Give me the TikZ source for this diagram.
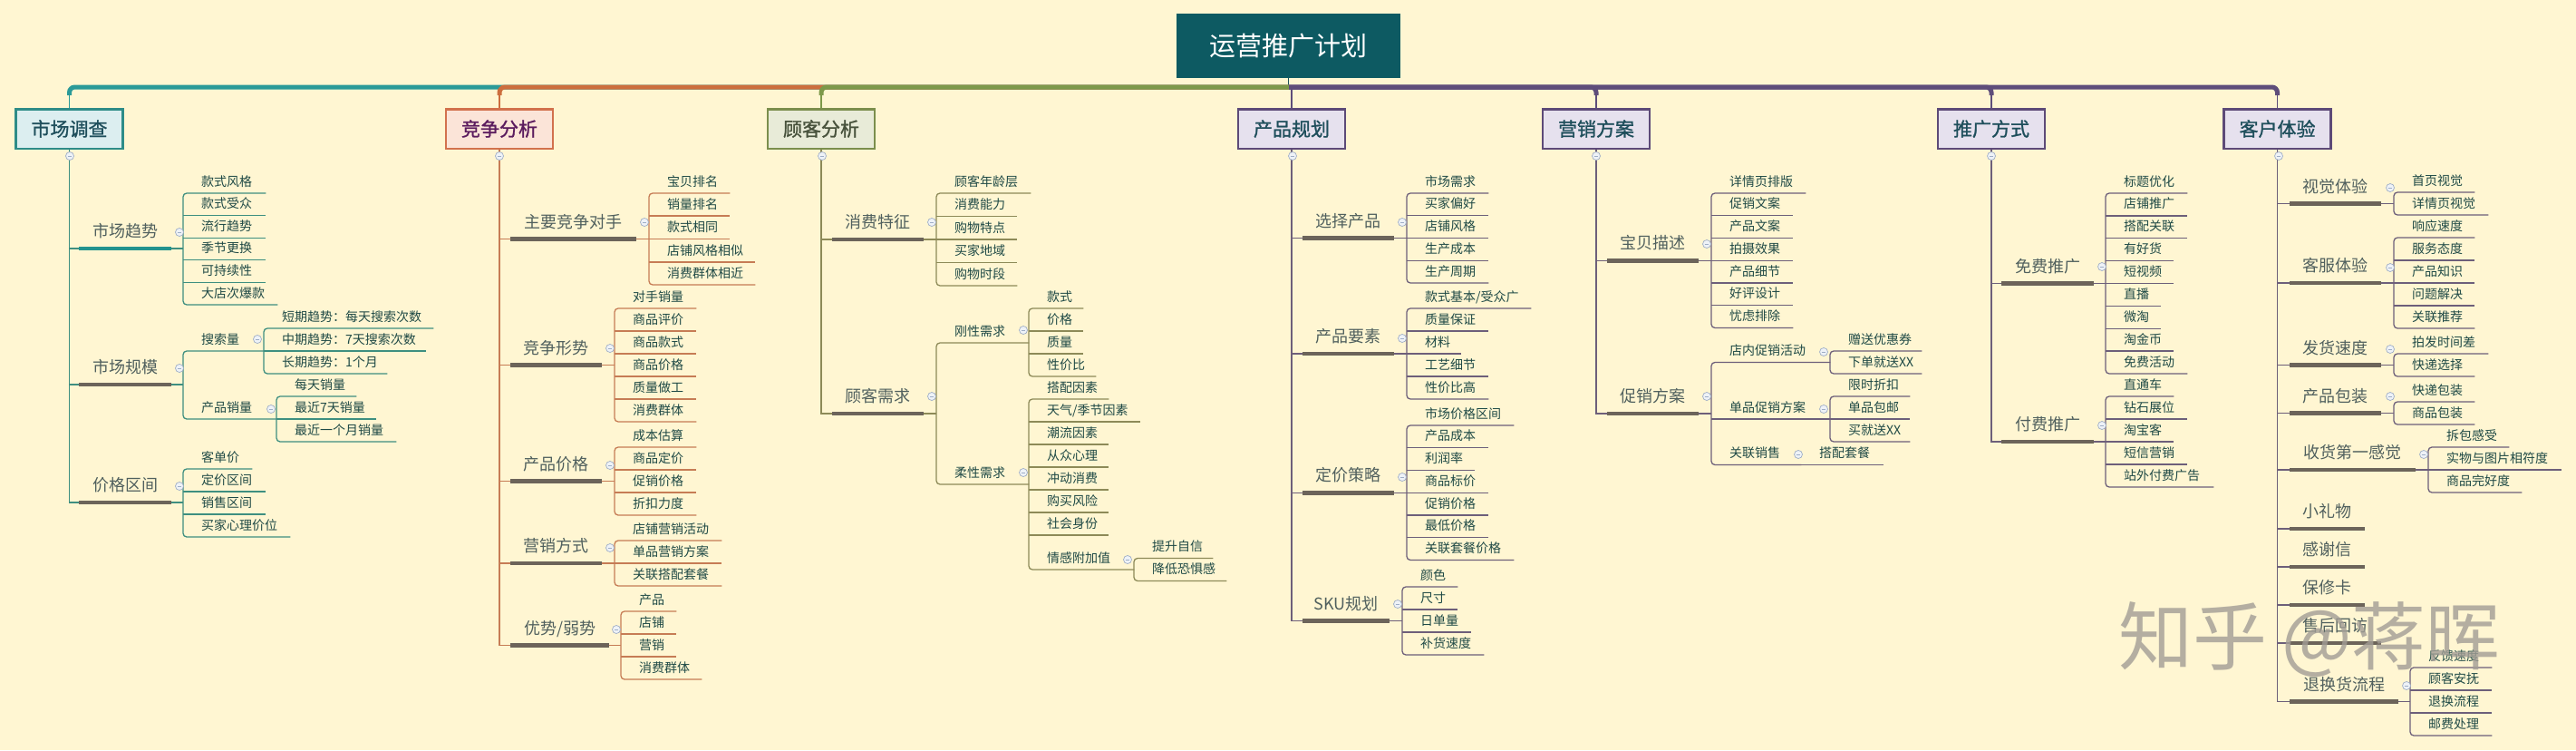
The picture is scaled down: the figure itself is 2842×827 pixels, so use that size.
\documentclass[tikz,border=0pt]{standalone}
\usepackage{fontspec}
\setmainfont{Noto Sans CJK SC}
\newfontfamily\boxfont[FakeBold=1.2]{Noto Sans CJK SC}
\usetikzlibrary{calc}
\definecolor{bg}{HTML}{FFF6D2}
\definecolor{ttl}{HTML}{0D5A62}
\definecolor{cA}{HTML}{3E8F80}
\definecolor{cB}{HTML}{C67C55}
\definecolor{cC}{HTML}{8D8A58}
\definecolor{cD}{HTML}{6D5F7A}
\definecolor{mA}{HTML}{2A9A98}
\definecolor{mB}{HTML}{CC6E3E}
\definecolor{mC}{HTML}{7D994A}
\definecolor{mD}{HTML}{5E4D7A}
\definecolor{fA}{HTML}{DCEEF0}
\definecolor{fB}{HTML}{FBE4D8}
\definecolor{fC}{HTML}{E8EBD8}
\definecolor{fD}{HTML}{E6E1EE}
\definecolor{dA}{HTML}{2E8C88}
\definecolor{dB}{HTML}{D2714D}
\definecolor{dC}{HTML}{7B8E4D}
\definecolor{dD}{HTML}{5D4A78}
\definecolor{tA}{HTML}{1F4F5C}
\definecolor{tB}{HTML}{5B1B5E}
\definecolor{tC}{HTML}{48523C}
\definecolor{tD}{HTML}{1E4E5B}
\definecolor{leafc}{HTML}{1F4A46}
\definecolor{lvtc}{HTML}{50605E}
\definecolor{barc}{HTML}{6C645A}
\definecolor{bart}{HTML}{23938F}
\definecolor{togd}{HTML}{9FAEC6}
\definecolor{togf}{HTML}{EEF2F7}
\definecolor{wmc}{HTML}{A29D95}
\newcommand\MMlt[5]{\node[lvt] (#1) at (#2,#3) {\makebox[#4pt][c]{#5}};}
\newcommand\MMlf[5]{\node[leaf] (#1) at (#2,#3) {\makebox[#4pt][l]{\hspace*{20pt}#5}};}
\newcommand\MMbrk[4]{\draw[ln,#1,rounded corners=4pt] (#2.south east) -| (#3.south west) -- (#3.south east);\foreach \mm in {#4}{\draw[ln,#1] (\mm.south west) -- (\mm.south east);}}
\newcommand\MMbrktwo[3]{\draw[ln,#1,rounded corners=4pt] (#2.south east) -| (#3.south west) -- (#3.south east);}
\newcommand\MMjn[3]{\draw[ln,#1] (#2.south east) -- (#2.south east -| #3.south west);}
\newcommand\MMsp[3]{\draw[ln,#1] (#2.south) |- (#3.south west);\draw[bar] (#3.south west) -- (#3.south east);}
\newcommand\MMtog[3]{\node[tog] (#1) at (#2,#3) {};}
\begin{document}
\begin{tikzpicture}[x=1pt,y=-1pt,
 ln/.style={line width=1.3pt},
 bar/.style={line width=4.5pt, barc},
 lvt/.style={anchor=south west, inner xsep=0pt, inner ysep=12.2pt, text height=13.7pt, text depth=0pt, font=\fontsize{18pt}{20pt}\selectfont, text=lvtc},
 leaf/.style={anchor=south west, inner xsep=0pt, inner ysep=7.7pt, text height=10.6pt, text depth=0pt, font=\fontsize{14pt}{16pt}\selectfont, text=leafc},
 box/.style={draw, line width=2.5pt, minimum width=118pt, minimum height=43.5pt, inner sep=0pt, font=\boxfont\fontsize{21pt}{24pt}\selectfont, text height=16pt, text depth=0pt},
 tog/.style={circle, draw=togd, fill=togf, line width=0.7pt, minimum size=9pt, inner sep=0pt, path picture={\draw[togd, line width=0.9pt] ([xshift=-2.3pt]path picture bounding box.center) -- ([xshift=2.3pt]path picture bounding box.center);}},
 mainl/.style={line width=5pt, rounded corners=6pt},
 stub/.style={line width=1.8pt}
]
\fill[bg] (0,0) rectangle (2842,827);
\useasboundingbox (0,0) rectangle (2842,827);

% root and boxes
\node[fill=ttl, minimum width=247pt, minimum height=71pt, inner sep=0pt, text=white, font=\fontsize{29pt}{32pt}\selectfont, text height=22pt, text depth=0pt] (R) at (1421.5,50.5) {运营推广计划};
\node[box, fill=fA, draw=dA, text=tA] (B1) at (76.5,142) {市场调查};
\node[box, fill=fB, draw=dB, text=tB] (B2) at (551,142) {竞争分析};
\node[box, fill=fC, draw=dC, text=tC] (B3) at (906,142) {顾客分析};
\node[box, fill=fD, draw=dD, text=tD] (B4) at (1425,142) {产品规划};
\node[box, fill=fD, draw=dD, text=tD] (B5) at (1761,142) {营销方案};
\node[box, fill=fD, draw=dD, text=tD] (B6) at (2197,142) {推广方式};
\node[box, fill=fD, draw=dD, text=tD] (B7) at (2512.5,142) {客户体验};

\coordinate (mj) at (1422,96);
\draw[line width=1.2pt, tD] (R.south) -- (R.south |- mj);
\draw[mainl, mA] (mj) -| ($(B1.north)+(0,-14)$);
\draw[stub, mA] ($(B1.north)+(0,-14)$) -- (B1.north);
\draw[mainl, mB] (mj) -| ($(B2.north)+(0,-14)$);
\draw[stub, mB] ($(B2.north)+(0,-14)$) -- (B2.north);
\draw[mainl, mC] (mj) -| ($(B3.north)+(0,-14)$);
\draw[stub, mC] ($(B3.north)+(0,-14)$) -- (B3.north);
\draw[mainl, mD] (mj) -| ($(B7.north)+(0,-14)$);
\draw[stub, mD] ($(B7.north)+(0,-14)$) -- (B7.north);
\draw[mainl, mD] (mj) -| ($(B6.north)+(0,-14)$);
\draw[stub, mD] ($(B6.north)+(0,-14)$) -- (B6.north);
\draw[mainl, mD] (mj) -| ($(B5.north)+(0,-14)$);
\draw[stub, mD] ($(B5.north)+(0,-14)$) -- (B5.north);
\draw[stub, mD] (B4.north |- mj) -- (B4.north);

% ---------- column 1
\MMlt{l11}{87}{274}{102}{市场趋势}
\MMlt{l12}{87}{424}{102}{市场规模}
\MMlt{l13}{87}{554}{102}{价格区间}
\MMlf{a1}{202}{213}{91}{款式风格}
\MMlf{a2}{202}{237.6}{91}{款式受众}
\MMlf{a3}{202}{262.2}{91}{流行趋势}
\MMlf{a4}{202}{286.8}{91}{季节更换}
\MMlf{a5}{202}{311.4}{91}{可持续性}
\MMlf{a6}{202}{336}{104}{大店次爆款}
\MMlf{a7}{202}{387}{89}{搜索量}
\MMlf{a8}{202}{462}{103}{产品销量}
\MMlf{a9}{291}{362}{187}{短期趋势：每天搜索次数}
\MMlf{a10}{291}{387}{179}{中期趋势：7天搜索次数}
\MMlf{a11}{291}{412}{136}{长期趋势：1个月}
\MMlf{a12}{305}{437}{88}{每天销量}
\MMlf{a13}{305}{462}{110}{最近7天销量}
\MMlf{a14}{305}{487}{132}{最近一个月销量}
\MMlf{a15}{202}{517}{76}{客单价}
\MMlf{a16}{202}{542}{91}{定价区间}
\MMlf{a17}{202}{567}{91}{销售区间}
\MMlf{a18}{202}{592}{118}{买家心理价位}
\MMsp{cA}{B1}{l11}\MMsp{cA}{B1}{l12}\MMsp{cA}{B1}{l13}
\draw[bar,bart] (l11.south west) -- (l11.south east);
\MMjn{cA}{l11}{a1}\MMbrk{cA}{a1}{a6}{a2,a3,a4,a5}
\MMjn{cA}{l12}{a7}\MMbrktwo{cA}{a7}{a8}
\MMbrk{cA}{a9}{a11}{a10}
\MMbrk{cA}{a12}{a14}{a13}
\MMjn{cA}{l13}{a15}\MMbrk{cA}{a15}{a18}{a16,a17}

% ---------- column 2
\MMlt{l21}{563}{263.5}{139}{主要竞争对手}
\MMlt{l22}{563}{402.5}{101}{竞争形势}
\MMlt{l23}{563}{530.5}{101}{产品价格}
\MMlt{l24}{563}{621}{101}{营销方式}
\MMlt{l25}{563}{711.5}{109}{优势/弱势}
\MMlf{k1}{716}{213}{89}{宝贝排名}
\MMlf{k2}{716}{238}{89}{销量排名}
\MMlf{k3}{716}{263.5}{89}{款式相同}
\MMlf{k4}{716}{289}{117}{店铺风格相似}
\MMlf{k5}{716}{314}{117}{消费群体相近}
\MMlf{k6}{678}{340}{90}{对手销量}
\MMlf{k7}{678}{365}{90}{商品评价}
\MMlf{k8}{678}{390}{90}{商品款式}
\MMlf{k9}{678}{415}{90}{商品价格}
\MMlf{k10}{678}{440}{90}{质量做工}
\MMlf{k11}{678}{465}{90}{消费群体}
\MMlf{k12}{678}{493}{90}{成本估算}
\MMlf{k13}{678}{518}{90}{商品定价}
\MMlf{k14}{678}{543}{90}{促销价格}
\MMlf{k15}{678}{568}{90}{折扣力度}
\MMlf{k16}{678}{596}{118}{店铺营销活动}
\MMlf{k17}{678}{621}{118}{单品营销方案}
\MMlf{k18}{678}{646}{118}{关联搭配套餐}
\MMlf{k19}{685}{674}{61}{产品}
\MMlf{k20}{685}{699}{61}{店铺}
\MMlf{k21}{685}{724}{61}{营销}
\MMlf{k22}{685}{749}{89}{消费群体}
\MMsp{cB}{B2}{l21}\MMsp{cB}{B2}{l22}\MMsp{cB}{B2}{l23}\MMsp{cB}{B2}{l24}\MMsp{cB}{B2}{l25}
\MMjn{cB}{l21}{k1}\MMbrk{cB}{k1}{k5}{k2,k3,k4}
\MMjn{cB}{l22}{k6}\MMbrk{cB}{k6}{k11}{k7,k8,k9,k10}
\MMjn{cB}{l23}{k12}\MMbrk{cB}{k12}{k15}{k13,k14}
\MMjn{cB}{l24}{k16}\MMbrk{cB}{k16}{k18}{k17}
\MMjn{cB}{l25}{k19}\MMbrk{cB}{k19}{k22}{k20,k21}

% ---------- column 3
\MMlt{l31}{918}{264}{101}{消费特征}
\MMlt{l32}{918}{456}{101}{顾客需求}
\MMlf{c1}{1033}{213}{104}{顾客年龄层}
\MMlf{c2}{1033}{238.5}{89}{消费能力}
\MMlf{c3}{1033}{264}{89}{购物特点}
\MMlf{c4}{1033}{289.5}{89}{买家地域}
\MMlf{c5}{1033}{315}{89}{购物时段}
\MMlf{c6}{1033}{378}{102}{刚性需求}
\MMlf{c7}{1033}{534}{102}{柔性需求}
\MMlf{c8}{1135}{340}{60}{款式}
\MMlf{c9}{1135}{365}{60}{价格}
\MMlf{c10}{1135}{390}{60}{质量}
\MMlf{c11}{1135}{415}{74}{性价比}
\MMlf{c12}{1135}{440}{88}{搭配因素}
\MMlf{c13}{1135}{465}{123}{天气/季节因素}
\MMlf{c14}{1135}{490}{88}{潮流因素}
\MMlf{c15}{1135}{515}{88}{从众心理}
\MMlf{c16}{1135}{540}{88}{冲动消费}
\MMlf{c17}{1135}{565}{88}{购买风险}
\MMlf{c18}{1135}{590}{88}{社会身份}
\MMlf{c19}{1135}{628}{116}{情感附加值}
\MMlf{c20}{1251}{615.5}{87}{提升自信}
\MMlf{c21}{1251}{640.5}{102}{降低恐惧感}
\MMsp{cC}{B3}{l31}\MMsp{cC}{B3}{l32}
\MMjn{cC}{l31}{c1}\MMbrk{cC}{c1}{c5}{c2,c3,c4}
\MMjn{cC}{l32}{c6}\MMbrktwo{cC}{c6}{c7}
\MMbrk{cC}{c8}{c11}{c9,c10}
\MMbrk{cC}{c12}{c19}{c13,c14,c15,c16,c17,c18}
\MMbrktwo{cC}{c20}{c21}

% ---------- column 4
\MMlt{l41}{1437}{262.5}{101}{选择产品}
\MMlt{l42}{1437}{390}{101}{产品要素}
\MMlt{l43}{1437}{543.25}{101}{定价策略}
\MMlt{l44}{1437}{684.5}{96}{SKU规划}
\MMlf{d1}{1552}{213}{90}{市场需求}
\MMlf{d2}{1552}{237.75}{90}{买家偏好}
\MMlf{d3}{1552}{262.5}{90}{店铺风格}
\MMlf{d4}{1552}{287.25}{90}{生产成本}
\MMlf{d5}{1552}{312}{90}{生产周期}
\MMlf{d6}{1552}{340}{137}{款式基本/受众广}
\MMlf{d7}{1552}{365}{90}{质量保证}
\MMlf{d8}{1552}{390}{60}{材料}
\MMlf{d9}{1552}{415}{90}{工艺细节}
\MMlf{d10}{1552}{440}{90}{性价比高}
\MMlf{d11}{1552}{469}{118}{市场价格区间}
\MMlf{d12}{1552}{493.75}{90}{产品成本}
\MMlf{d13}{1552}{518.5}{75}{利润率}
\MMlf{d14}{1552}{543.25}{90}{商品标价}
\MMlf{d15}{1552}{568}{90}{促销价格}
\MMlf{d16}{1552}{592.75}{90}{最低价格}
\MMlf{d17}{1552}{617.5}{118}{关联套餐价格}
\MMlf{d18}{1547}{647}{61}{颜色}
\MMlf{d19}{1547}{672}{61}{尺寸}
\MMlf{d20}{1547}{697}{76}{日单量}
\MMlf{d21}{1547}{722}{90}{补货速度}
\MMsp{cD}{B4}{l41}\MMsp{cD}{B4}{l42}\MMsp{cD}{B4}{l43}\MMsp{cD}{B4}{l44}
\MMjn{cD}{l41}{d1}\MMbrk{cD}{d1}{d5}{d2,d3,d4}
\MMjn{cD}{l42}{d6}\MMbrk{cD}{d6}{d10}{d7,d8,d9}
\MMjn{cD}{l43}{d11}\MMbrk{cD}{d11}{d17}{d12,d13,d14,d15,d16}
\MMjn{cD}{l44}{d18}\MMbrk{cD}{d18}{d21}{d19,d20}

% ---------- column 5
\MMlt{l51}{1773}{287.25}{101}{宝贝描述}
\MMlt{l52}{1773}{456}{101}{促销方案}
\MMlf{e1}{1888}{213}{104}{详情页排版}
\MMlf{e2}{1888}{237.75}{90}{促销文案}
\MMlf{e3}{1888}{262.5}{90}{产品文案}
\MMlf{e4}{1888}{287.25}{90}{拍摄效果}
\MMlf{e5}{1888}{312}{90}{产品细节}
\MMlf{e6}{1888}{336.75}{90}{好评设计}
\MMlf{e7}{1888}{361.5}{90}{忧虑排除}
\MMlf{e8}{1888}{399.5}{131}{店内促销活动}
\MMlf{e9}{1888}{462}{131}{单品促销方案}
\MMlf{e10}{1888}{512.5}{99}{关联销售}
\MMlf{e11}{2019}{387}{101}{赠送优惠券}
\MMlf{e12}{2019}{412}{101}{下单就送XX}
\MMlf{e13}{2019}{437}{88}{限时折扣}
\MMlf{e14}{2019}{462}{88}{单品包邮}
\MMlf{e15}{2019}{487}{88}{买就送XX}
\MMlf{e16}{1987}{512.5}{91}{搭配套餐}
\MMsp{cD}{B5}{l51}\MMsp{cD}{B5}{l52}
\MMjn{cD}{l51}{e1}\MMbrk{cD}{e1}{e7}{e2,e3,e4,e5,e6}
\MMjn{cD}{l52}{e8}\MMbrk{cD}{e8}{e10}{e9}
\MMbrktwo{cD}{e11}{e12}
\MMbrk{cD}{e13}{e15}{e14}
\draw[ln,cD] (e16.south west) -- (e16.south east);

% ---------- column 6
\MMlt{l61}{2208}{312.5}{102}{免费推广}
\MMlt{l62}{2208}{487}{102}{付费推广}
\MMlf{f1}{2323}{213}{90}{标题优化}
\MMlf{f2}{2323}{237.875}{90}{店铺推广}
\MMlf{f3}{2323}{262.75}{90}{搭配关联}
\MMlf{f4}{2323}{287.625}{75}{有好货}
\MMlf{f5}{2323}{312.5}{75}{短视频}
\MMlf{f6}{2323}{337.375}{61}{直播}
\MMlf{f7}{2323}{362.25}{61}{微淘}
\MMlf{f8}{2323}{387.125}{75}{淘金币}
\MMlf{f9}{2323}{412}{90}{免费活动}
\MMlf{f10}{2323}{437}{75}{直通车}
\MMlf{f11}{2323}{462}{90}{钻石展位}
\MMlf{f12}{2323}{487}{75}{淘宝客}
\MMlf{f13}{2323}{512}{90}{短信营销}
\MMlf{f14}{2323}{537}{119}{站外付费广告}
\MMsp{cD}{B6}{l61}\MMsp{cD}{B6}{l62}
\MMjn{cD}{l61}{f1}\MMbrk{cD}{f1}{f9}{f2,f3,f4,f5,f6,f7,f8}
\MMjn{cD}{l62}{f10}\MMbrk{cD}{f10}{f14}{f11,f12,f13}

% ---------- column 7
\MMlt{l71}{2526}{224.5}{101}{视觉体验}
\MMlt{l72}{2526}{312}{101}{客服体验}
\MMlt{l73}{2526}{402.5}{101}{发货速度}
\MMlt{l74}{2526}{455.5}{101}{产品包装}
\MMlt{l75}{2526}{518}{139}{收货第一感觉}
\MMlt{l76}{2526}{583}{83}{小礼物}
\MMlt{l77}{2526}{625}{83}{感谢信}
\MMlt{l78}{2526}{667}{83}{保修卡}
\MMlt{l79}{2526}{709}{101}{售后回访}
\MMlt{l7a}{2526}{773.5}{120}{退换货流程}
\MMlf{g1}{2641}{212}{89}{首页视觉}
\MMlf{g2}{2641}{237}{104}{详情页视觉}
\MMlf{g3}{2641}{262}{89}{响应速度}
\MMlf{g4}{2641}{287}{89}{服务态度}
\MMlf{g5}{2641}{312}{89}{产品知识}
\MMlf{g6}{2641}{337}{89}{问题解决}
\MMlf{g7}{2641}{362}{89}{关联推荐}
\MMlf{g8}{2641}{390}{104}{拍发时间差}
\MMlf{g9}{2641}{415}{89}{快递选择}
\MMlf{g10}{2641}{443}{89}{快递包装}
\MMlf{g11}{2641}{468}{89}{商品包装}
\MMlf{g12}{2679}{493}{89}{拆包感受}
\MMlf{g13}{2679}{518}{147}{实物与图片相符度}
\MMlf{g14}{2679}{543}{103}{商品完好度}
\MMlf{g15}{2659}{736}{90}{反馈速度}
\MMlf{g16}{2659}{761}{90}{顾客安抚}
\MMlf{g17}{2659}{786}{90}{退换流程}
\MMlf{g18}{2659}{811}{90}{邮费处理}
\MMsp{cD}{B7}{l71}\MMsp{cD}{B7}{l72}\MMsp{cD}{B7}{l73}\MMsp{cD}{B7}{l74}\MMsp{cD}{B7}{l75}
\MMsp{cD}{B7}{l76}\MMsp{cD}{B7}{l77}\MMsp{cD}{B7}{l78}\MMsp{cD}{B7}{l79}\MMsp{cD}{B7}{l7a}
\MMjn{cD}{l71}{g1}\MMbrktwo{cD}{g1}{g2}
\MMjn{cD}{l72}{g3}\MMbrk{cD}{g3}{g7}{g4,g5,g6}
\MMjn{cD}{l73}{g8}\MMbrktwo{cD}{g8}{g9}
\MMjn{cD}{l74}{g10}\MMbrktwo{cD}{g10}{g11}
\MMjn{cD}{l75}{g12}\MMbrk{cD}{g12}{g14}{g13}
\MMjn{cD}{l7a}{g15}\MMbrk{cD}{g15}{g18}{g16,g17}

% ---------- collapse markers
\MMtog{t1}{77}{172}\MMtog{t2}{198}{256}\MMtog{t3}{198}{406}\MMtog{t4}{198}{536}\MMtog{t5}{284}{374}\MMtog{t6}{299}{451}
\MMtog{t7}{551}{172}\MMtog{t8}{711}{245}\MMtog{t9}{673}{384}\MMtog{t10}{673}{513}\MMtog{t11}{673}{604}\MMtog{t12}{680}{694}
\MMtog{t13}{907}{172}\MMtog{t14}{1028}{245}\MMtog{t15}{1028}{437}\MMtog{t16}{1129}{364}\MMtog{t17}{1129}{521}\MMtog{t18}{1244}{617}
\MMtog{t19}{1426}{172}\MMtog{t20}{1547}{245}\MMtog{t21}{1547}{373}\MMtog{t22}{1547}{526}\MMtog{t23}{1542}{666}
\MMtog{t24}{1761}{172}\MMtog{t25}{1883}{269}\MMtog{t26}{1883}{437}\MMtog{t27}{2012}{388}\MMtog{t28}{2012}{451}\MMtog{t29}{1984}{501}
\MMtog{t30}{2197}{172}\MMtog{t31}{2319}{294}\MMtog{t32}{2319}{469}
\MMtog{t33}{2514}{172}\MMtog{t34}{2637}{207}\MMtog{t35}{2637}{295}\MMtog{t36}{2637}{385}\MMtog{t37}{2637}{437}\MMtog{t38}{2674}{501}\MMtog{t39}{2655}{756}

% ---------- watermark
\node[font=\fontsize{82pt}{90pt}\selectfont, text=wmc, text opacity=0.8, inner sep=0pt] (wm) at (2548,705) {知乎\hspace{16pt}@蒋晖};
\end{tikzpicture}
\end{document}
